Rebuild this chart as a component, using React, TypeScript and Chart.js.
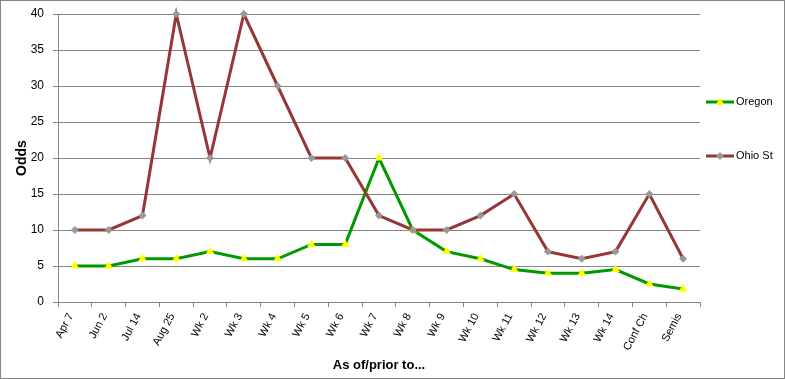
import React, { useEffect, useRef } from "react";
import { Chart, registerables } from "chart.js";

Chart.register(...registerables);

const categories = ["Apr 7", "Jun 2", "Jul 14", "Aug 25", "Wk 2", "Wk 3", "Wk 4", "Wk 5", "Wk 6", "Wk 7", "Wk 8", "Wk 9", "Wk 10", "Wk 11", "Wk 12", "Wk 13", "Wk 14", "Conf Ch", "Semis"];
const oregon = [5, 5, 6, 6, 7, 6, 6, 8, 8, 20, 10, 7, 6, 4.5, 4, 4, 4.5, 2.5, 1.8];
const ohioSt = [10, 10, 12, 40, 20, 40, 30, 20, 20, 12, 10, 10, 12, 15, 7, 6, 7, 15, 6];
const seriesNames = ["Oregon", "Ohio St"];
const yTitle = "Odds";
const xTitle = "As of/prior to...";

const FONT = "'Liberation Sans', Arial, sans-serif";

const frameAndLegend = {
  id: "frameAndLegend",
  afterDraw(chart: any) {
    const ctx = chart.ctx;
    ctx.save();
    ctx.strokeStyle = "#868686";
    ctx.lineWidth = 1;
    ctx.strokeRect(0.5, 0.5, chart.width - 1, chart.height - 1);
    const ys = [102, 156];
    chart.data.datasets.forEach((ds: any, i: number) => {
      const y = ys[i];
      ctx.strokeStyle = ds.borderColor;
      ctx.lineWidth = 3;
      ctx.beginPath();
      ctx.moveTo(706, y);
      ctx.lineTo(734, y);
      ctx.stroke();
      ctx.fillStyle = ds.pointBackgroundColor;
      ctx.beginPath();
      if (ds.pointStyle === "triangle") {
        ctx.moveTo(720, y - 4.5);
        ctx.lineTo(724.5, y + 3);
        ctx.lineTo(715.5, y + 3);
      } else {
        ctx.moveTo(720, y - 4);
        ctx.lineTo(724, y);
        ctx.lineTo(720, y + 4);
        ctx.lineTo(716, y);
      }
      ctx.closePath();
      ctx.fill();
      ctx.fillStyle = "#000";
      ctx.font = `11px ${FONT}`;
      ctx.textBaseline = "middle";
      ctx.textAlign = "left";
      ctx.fillText(ds.label, 736, y);
    });
    ctx.restore();
  },
};

export default function App() {
  const ref = useRef<HTMLCanvasElement>(null);
  useEffect(() => {
    if (!ref.current) return;
    const chart = new Chart(ref.current, {
      type: "line",
      data: {
        labels: categories,
        datasets: [
          {
            label: seriesNames[0],
            data: oregon,
            borderColor: "#009900",
            borderWidth: 3,
            pointStyle: "triangle",
            pointRadius: 5,
            pointBackgroundColor: "#ffff00",
            pointBorderColor: "#ffff00",
            pointBorderWidth: 0,
            order: 2,
            clip: false,
          } as any,
          {
            label: seriesNames[1],
            data: ohioSt,
            borderColor: "#953735",
            borderWidth: 3,
            pointStyle: "rectRot",
            pointRadius: 4,
            pointBackgroundColor: "#999999",
            pointBorderColor: "#999999",
            pointBorderWidth: 0,
            order: 1,
            clip: false,
          } as any,
        ],
      },
      options: {
        animation: false,
        responsive: false,
        maintainAspectRatio: false,
        layout: { padding: { top: 14, right: 85, left: 0, bottom: 0 } },
        plugins: { legend: { display: false }, tooltip: { enabled: false } },
        scales: {
          x: {
            offset: true,
            grid: {
              offset: true,
              drawOnChartArea: false,
              drawTicks: true,
              tickLength: 5,
              color: "#868686",
            },
            border: { color: "#868686", width: 1 },
            ticks: {
              minRotation: 62,
              maxRotation: 62,
              padding: 4,
              labelOffset: -4,
              color: "#000",
              font: { family: FONT, size: 11 },
              autoSkip: false,
            },
            title: {
              display: true,
              text: xTitle,
              color: "#000",
              font: { family: FONT, size: 13, weight: "bold" },
              padding: { top: 0, bottom: 6 },
            },
            afterFit(scale: any) {
              scale.height = 77;
              scale.paddingLeft = 0;
              scale.paddingRight = 0;
            },
          },
          y: {
            min: 0,
            max: 40,
            ticks: {
              stepSize: 5,
              padding: 9,
              color: "#000",
              font: { family: FONT, size: 12 },
            },
            grid: { color: "#868686", tickLength: 5, lineWidth: 1 },
            border: { color: "#868686", width: 1 },
            title: {
              display: true,
              text: yTitle,
              color: "#000",
              font: { family: FONT, size: 14, weight: "bold" },
              padding: { top: 14, bottom: 0 },
            },
            afterFit(scale: any) {
              scale.width = 58;
              scale.paddingTop = 0;
              scale.paddingBottom = 0;
            },
          },
        },
      } as any,
      plugins: [frameAndLegend],
    });
    return () => chart.destroy();
  }, []);
  return (
    <div style={{ position: "absolute", left: 0, top: 0, width: 785, height: 379, background: "#fff" }}>
      <canvas ref={ref} width={785} height={379} style={{ width: 785, height: 379 }} />
    </div>
  );
}
